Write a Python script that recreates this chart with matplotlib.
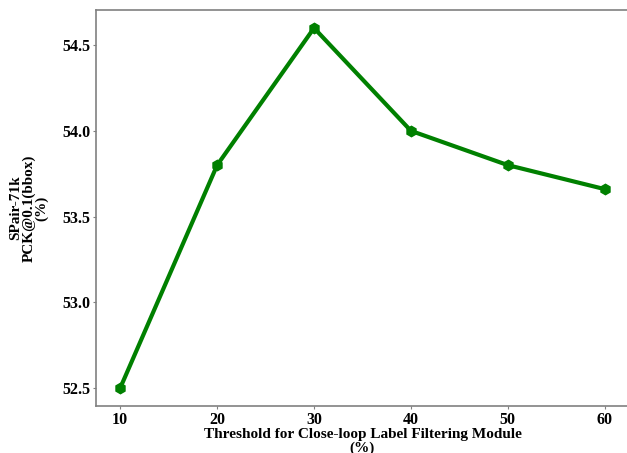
import matplotlib
matplotlib.use("Agg")
import matplotlib.pyplot as plt

# Threshold (%) vs SPair-71k PCK@0.1(bbox)
thresholds = [10, 20, 30, 40, 50, 60]
pck_values = [52.5, 53.8, 54.6, 54.0, 53.8, 53.66]

plt.rcParams['font.family'] = ['Liberation Serif', 'DejaVu Serif']
plt.rcParams['font.weight'] = 'bold'

fig = plt.figure(figsize=(6.27, 4.53), dpi=100)
ax = fig.add_axes([96 / 627, 1 - 406 / 453, 533 / 627, 396 / 453])

ax.plot(thresholds, pck_values, color='green', lw=3, marker='h',
        markersize=7.5)

ax.set_xticks(thresholds)
ax.set_yticks([52.5, 53.0, 53.5, 54.0, 54.5])
ax.set_yticklabels(['52.5', '53.0', '53.5', '54.0', '54.5'])

ax.tick_params(labelsize=11.5, color='gray', length=2, width=0.8, pad=2)
for lab in ax.get_xticklabels() + ax.get_yticklabels():
    lab.set_fontweight('bold')

for s in ax.spines.values():
    s.set_color('gray')
    s.set_linewidth(1.2)

ax.set_xlabel('Threshold for Close-loop Label Filtering Module\n(%)',
              fontsize=11, fontweight='bold', labelpad=0, linespacing=1.1)
ax.set_ylabel('SPair-71k\nPCK@0.1(bbox)\n(%)', fontsize=11,
              fontweight='bold', labelpad=10, linespacing=0.95)

fig.savefig('out.png', dpi=100)
